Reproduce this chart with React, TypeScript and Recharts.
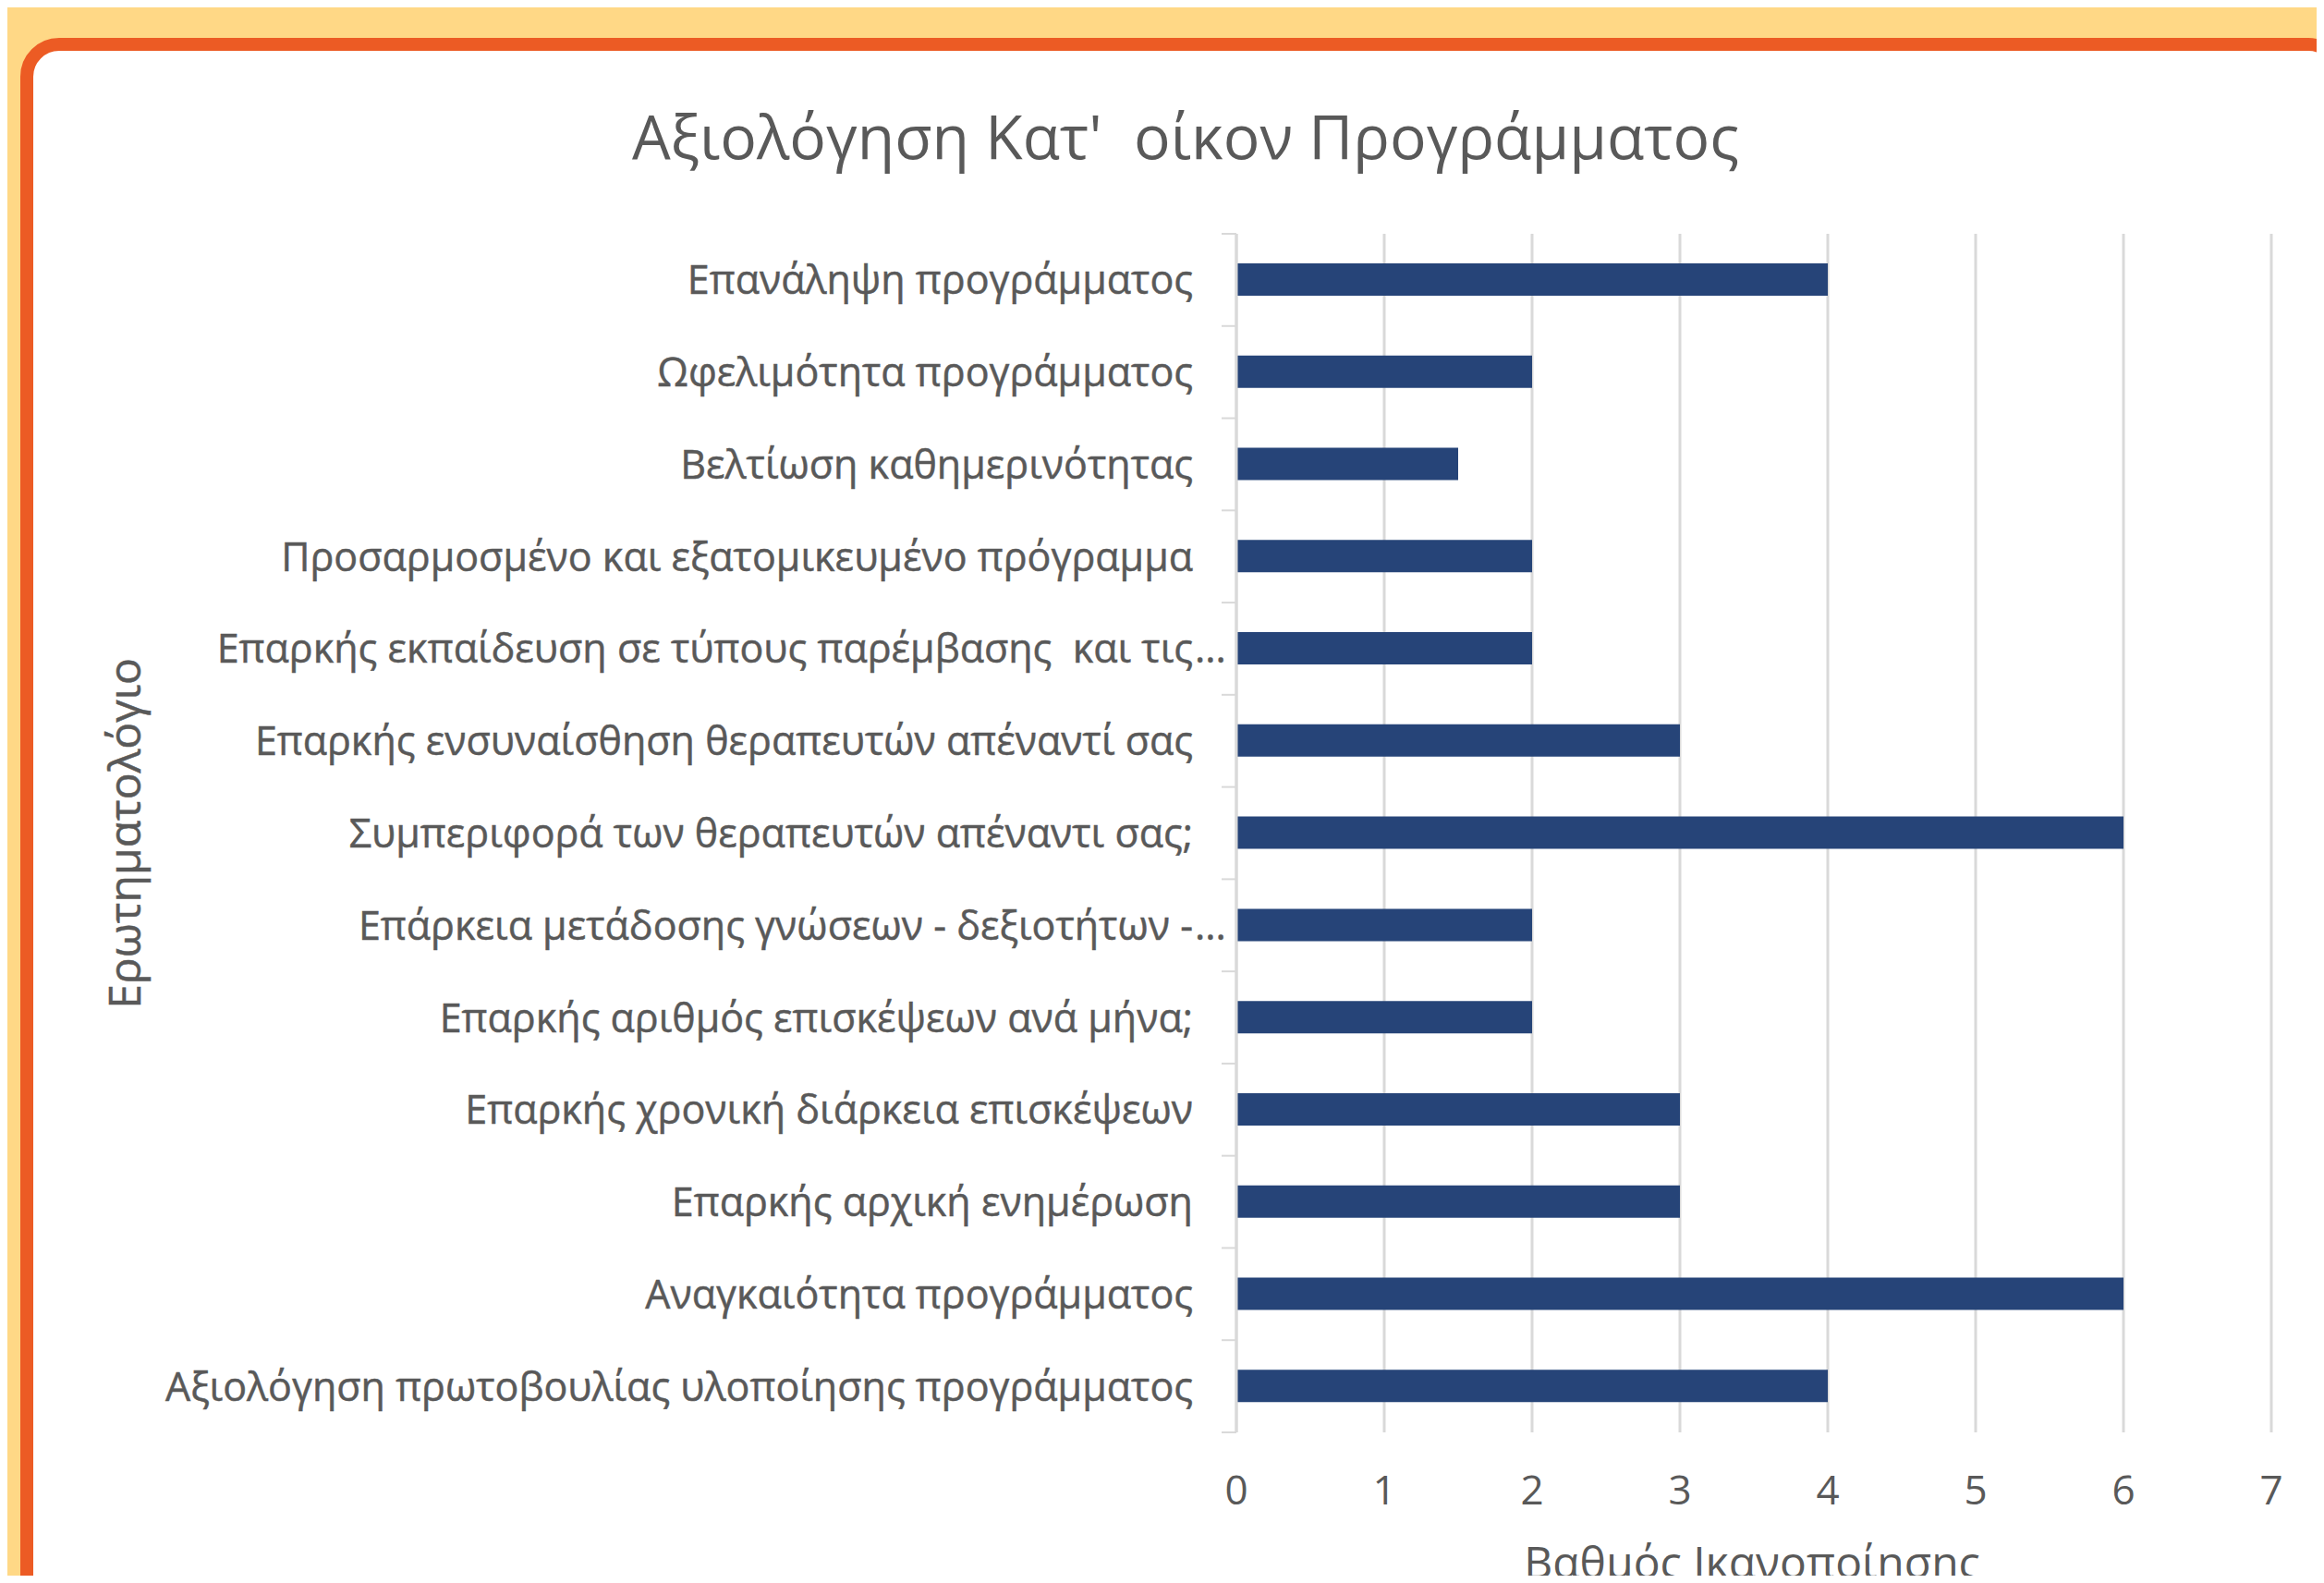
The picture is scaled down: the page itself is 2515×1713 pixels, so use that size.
import { BarChart, Bar, XAxis, YAxis, CartesianGrid } from "recharts";

// questionnaire items, top to bottom as shown
const categories = [
  "Επανάληψη προγράμματος",
  "Ωφελιμότητα προγράμματος",
  "Βελτίωση καθημερινότητας",
  "Προσαρμοσμένο και εξατομικευμένο πρόγραμμα",
  "Επαρκής εκπαίδευση σε τύπους παρέμβασης  και τις...",
  "Επαρκής ενσυναίσθηση θεραπευτών απέναντί σας",
  "Συμπεριφορά των θεραπευτών απέναντι σας;",
  "Επάρκεια μετάδοσης γνώσεων - δεξιοτήτων -...",
  "Επαρκής αριθμός επισκέψεων ανά μήνα;",
  "Επαρκής χρονική διάρκεια επισκέψεων",
  "Επαρκής αρχική ενημέρωση",
  "Αναγκαιότητα προγράμματος",
  "Αξιολόγηση πρωτοβουλίας υλοποίησης προγράμματος",
];

const scores = [4, 2, 1.5, 2, 2, 3, 6, 2, 2, 3, 3, 6, 4];

const xTicks = [0, 1, 2, 3, 4, 5, 6, 7];

const title = "Αξιολόγηση Κατ'  οίκον Προγράμματος";
const xTitle = "Βαθμός Ικανοποίησης";
const yTitle = "Ερωτηματολόγιο";

const W = 2515;
const H = 1713;
const AXIS_X = 1338;
const PLOT_TOP = 253;
const PLOT_BOTTOM = 1550;
const PLOT_RIGHT = 2458;
const BAND = (PLOT_BOTTOM - PLOT_TOP) / categories.length;

const FONT = '"Open Sans", sans-serif';
const TEXT = "#595959";
const GRID = "#D9D9D9";
const LABEL_SIZE = 43;

const data = categories.map((name, i) => ({ name, score: scores[i] }));

function CategoryTick(props: any) {
  const { y, payload, index } = props;
  const label: string = payload.value;
  const cut = label.endsWith("...");
  const main = cut ? label.slice(0, -3) : label;
  const last = index === categories.length - 1;
  return (
    <g>
      <line x1={AXIS_X - 16} x2={AXIS_X} y1={y - BAND / 2} y2={y - BAND / 2} stroke={GRID} strokeWidth={2} />
      {last && (
        <line x1={AXIS_X - 16} x2={AXIS_X} y1={y + BAND / 2} y2={y + BAND / 2} stroke={GRID} strokeWidth={2} />
      )}
      <text
        x={AXIS_X - 47}
        y={y}
        dy="0.36em"
        textAnchor="end"
        fill={TEXT}
        stroke={TEXT}
        strokeWidth={0.5}
        fontSize={LABEL_SIZE}
        fontFamily={FONT}
        style={{ whiteSpace: "pre" }}
      >
        {main}
      </text>
      {cut && (
        <text
          x={AXIS_X - 45}
          y={y}
          dy="0.36em"
          textAnchor="start"
          fill={TEXT}
          stroke={TEXT}
          strokeWidth={0.5}
          fontSize={LABEL_SIZE}
          fontFamily={FONT}
        >
          ...
        </text>
      )}
    </g>
  );
}

function ValueTick(props: any) {
  const { x, payload } = props;
  return (
    <text x={x} y={PLOT_BOTTOM + 78} textAnchor="middle" fill={TEXT} fontSize={44} fontFamily={FONT}>
      {payload.value}
    </text>
  );
}

export default function App() {
  return (
    <div
      style={{
        position: "relative",
        width: W,
        height: H,
        margin: -8,
        overflow: "hidden",
        background: "#FFD886",
      }}
    >
      <div
        style={{
          position: "absolute",
          left: 22,
          top: 41,
          width: 2518,
          height: 1800,
          boxSizing: "border-box",
          border: "14px solid #EC5B24",
          borderRadius: 42,
          background: "#FFFFFF",
        }}
      />
      <div style={{ position: "absolute", left: 0, top: 0 }}>
        <BarChart
          width={W}
          height={H}
          data={data}
          layout="vertical"
          margin={{ top: PLOT_TOP, right: W - PLOT_RIGHT, bottom: 0, left: 0 }}
        >
          <CartesianGrid horizontal={false} stroke={GRID} strokeWidth={3} />
          <XAxis
            type="number"
            domain={[0, 7]}
            ticks={xTicks}
            axisLine={false}
            tickLine={false}
            height={H - PLOT_BOTTOM}
            tick={<ValueTick />}
          />
          <YAxis
            type="category"
            dataKey="name"
            width={AXIS_X}
            axisLine={{ stroke: GRID, strokeWidth: 3 }}
            tickLine={false}
            interval={0}
            tick={<CategoryTick />}
          />
          <Bar dataKey="score" fill="#264478" barSize={35} isAnimationActive={false} />
        </BarChart>
      </div>
      <svg
        width={W}
        height={H}
        style={{ position: "absolute", left: 0, top: 0, pointerEvents: "none" }}
      >
        <text
          x={1283}
          y={172}
          textAnchor="middle"
          fill={TEXT}
          fontSize={66}
          fontFamily={FONT}
          style={{ whiteSpace: "pre" }}
        >
          {title}
        </text>
        <text x={1896} y={1708} textAnchor="middle" fill={TEXT} fontSize={48} fontFamily={FONT}>
          {xTitle}
        </text>
        <text
          x={152}
          y={902}
          textAnchor="middle"
          fill={TEXT}
          stroke={TEXT}
          strokeWidth={0.5}
          fontSize={48}
          fontFamily={FONT}
          transform="rotate(-90 152 902)"
        >
          {yTitle}
        </text>
      </svg>
    </div>
  );
}
